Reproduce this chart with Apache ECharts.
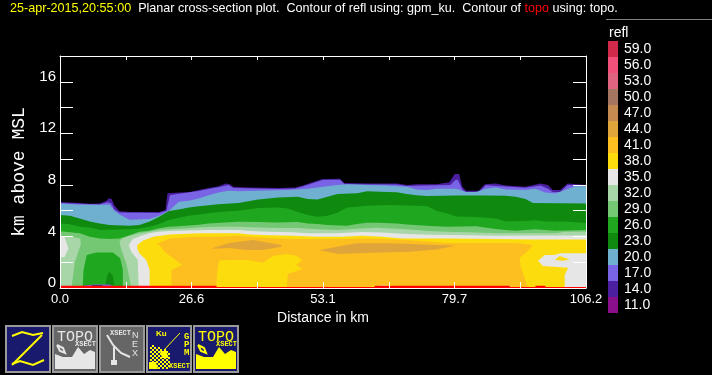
<!DOCTYPE html>
<html>
<head>
<meta charset="utf-8">
<style>
html, body { margin: 0; padding: 0; background: #000; }
#chart { width: 712px; height: 375px; }
</style>
<script src="https://cdn.jsdelivr.net/npm/echarts@6/dist/echarts.min.js"></script>
</head>
<body>
<div id="chart"></div>
<script>
// legend levels, top to bottom
const levels = ['59.0','56.0','53.0','50.0','47.0','44.0','41.0','38.0','35.0','32.0','29.0','26.0','23.0','20.0','17.0','14.0','11.0'];
const levelColors = ['#d0294a','#f0507a','#e0647f','#a47560','#c48a50','#e0a53a','#fdbf1f','#fcdc0d','#e6e6e6','#a9d6a9','#74c874','#1fa81f','#0f8a0f','#6fb0d0','#7a64e6','#4c1ea0','#8a0f8a'];
const xTickLabels = ['0.0','26.6','53.1','79.7','106.2'];
const yTickLabels = ['0','4','8','12','16'];

// contour outlines, [distance km, height km]
const top14 = [[0,0],[0,6.67],[2,6.64],[4,6.6],[6,6.54],[8,6.56],[9.3,6.75],[9.9,6.97],[10.4,6.9],[11,6.4],[12,5.95],[14,5.9],[20,5.9],[21.3,6.05],[21.7,7.35],[24,7.4],[26,7.42],[28,7.6],[30,7.75],[32,7.9],[33.5,8.1],[34.3,8.05],[35,7.85],[38,7.8],[44,7.75],[47.5,7.8],[49,7.95],[51,8.2],[53,8.45],[56.5,8.48],[57.4,8.15],[62,8.1],[68,8.1],[70,8],[72,8.05],[76,8.05],[78.6,8.2],[79.7,8.85],[80.6,8.85],[81.2,7.85],[82,7.55],[84.5,7.55],[85.8,8.05],[88,8.1],[90,7.95],[94,7.85],[97,8.1],[98.5,8],[99.5,7.6],[101,7.6],[102.5,8.1],[106.2,8],[106.2,0]];
const top17 = [[0,0],[0,6.6],[8,6.48],[9.5,6.65],[10.3,6.6],[11,6.1],[12,5.85],[20,5.82],[21.5,6],[22.2,7.2],[24,7.32],[28,7.52],[30,7.68],[32,7.82],[34,8],[35,7.75],[44,7.68],[47.5,7.72],[49,7.88],[51,8.12],[53,8.38],[56.5,8.4],[57.5,8.05],[68,8.03],[70,7.92],[76,7.98],[78.8,8],[79.9,8.4],[80.3,8.4],[81.3,7.6],[82,7.42],[84.5,7.42],[86,7.98],[90,7.87],[94,7.78],[97,7.95],[98.5,7.7],[99.5,7.45],[101,7.45],[102.5,8],[106.2,7.92],[106.2,0]];
const top20 = [[0,0],[0,6.56],[4,6.45],[10,6.45],[11,6],[12,5.7],[14,5.3],[18,5.35],[20,5.6],[22,6],[24,6.7],[26,6.77],[28,6.95],[30,7.2],[32,7.4],[34,7.55],[36,7.5],[40,7.55],[46,7.6],[50,7.7],[52,7.8],[54,7.9],[56,8],[58,8.05],[62,8],[66,7.95],[70,7.85],[72,7.65],[74,7.6],[76,7.7],[80,7.7],[82,7.45],[84,7.45],[86,7.7],[88,7.8],[90,7.65],[94,7.6],[96,7.7],[98,7.4],[100,7.34],[102,7.6],[104,7.9],[106.2,7.9],[106.2,0]];
const top23 = [[0,0],[0,5.66],[2,5.6],[4,5.4],[6,5.15],[8,5],[10,4.88],[14,4.83],[16,4.88],[18,5.14],[20,5.53],[22,5.97],[24,6.1],[26,6.25],[28,6.35],[32,6.5],[36,6.6],[40,6.87],[44,7.03],[48,7.08],[50,6.9],[52,6.87],[54,7.08],[56,7.29],[60,7.35],[62,7.5],[66,7.45],[68,7.42],[70,7.29],[72,7.2],[74,7.13],[80,7.18],[86,7.18],[90,7.15],[92,7.08],[94,6.9],[95.5,6.6],[106.2,6.55],[106.2,0]];
const top26 = [[0,0],[0,5],[2,4.95],[4,4.75],[6,4.7],[8,4.5],[14,4.55],[16,4.62],[18,4.75],[20,4.96],[22,5.27],[24,5.45],[26,5.6],[28,5.7],[30,5.79],[32,5.9],[36,6],[40,6.2],[44,6.25],[46,6.17],[48,5.9],[50,5.66],[52,5.53],[54,5.6],[56,5.84],[58,6.25],[60,6.3],[62,6.38],[66,6.43],[70,6.4],[74,6.36],[76,6],[78,5.8],[80,5.55],[84,5.5],[88,5.4],[90,5.15],[94,5.2],[96,5.25],[98,5.15],[102,5.15],[106.2,5.05],[106.2,0]];
const top29 = [[0,0],[0,4.4],[4,4.25],[6,3.98],[8,3.85],[10,3.8],[12,3.85],[14,4.1],[16,4.37],[18,4.44],[20,4.63],[22,4.75],[24,4.8],[28,4.9],[30,5],[36,5.14],[40,5.12],[44,5.09],[48,5.12],[50,5],[52,4.96],[54,4.88],[58,4.83],[60,4.96],[62,5.06],[64,5.06],[68,5],[70,4.92],[74,4.83],[78,4.75],[84,4.8],[88,4.57],[90,4.5],[92,4.44],[96,4.55],[98,4.5],[100,4.44],[106.2,4.5],[106.2,0]];
const left32 = [[0,0],[0,4.05],[2,4],[4.1,3.85],[4.2,3.4],[3,2],[2.3,0]];
const left35 = [[0,4.05],[0.9,3.98],[1.7,3.07],[0.9,2.38],[0,2.38]];
const main32 = [[14.3,0],[14.3,0.23],[13.4,1.9],[12.4,2.95],[12,3.6],[12.6,3.85],[14,4.03],[16,4.24],[18,4.37],[20,4.5],[22,4.55],[26,4.63],[28,4.7],[32,4.75],[36,4.75],[40,4.7],[44,4.65],[48,4.65],[52,4.55],[56,4.5],[60,4.6],[64,4.68],[68,4.6],[72,4.5],[74,4.42],[78,4.37],[84,4.3],[88,4.24],[100,4.24],[102,4.37],[106.2,4.37],[106.2,0]];
const main35 = [[15.9,0],[15.7,2.17],[14.4,2.8],[13.9,3.33],[14.7,3.8],[16.7,4.1],[18,4.24],[20,4.37],[22,4.42],[26,4.47],[30,4.5],[36,4.5],[38.3,4.42],[42.3,4.37],[47,4.32],[50,4.25],[55.7,4.25],[61,4.35],[65,4.3],[69,4.2],[74.7,4.14],[79,4.11],[88,4.06],[106.2,4.08],[106.2,0]];
const main38 = [[18.1,0],[18.1,1.4],[17.4,2.17],[16,2.69],[15.6,3.07],[15.6,3.33],[16.7,3.67],[18.8,3.98],[22.1,4.16],[28.2,4.24],[36,4.24],[38.3,4.16],[42.3,4.1],[47,4.05],[51.8,3.98],[57,3.98],[61,4.06],[65,3.98],[69,3.85],[79,3.85],[88,3.8],[95,3.77],[106.2,3.77],[106.2,0]];
const main41 = [[22.5,0],[22.5,1.4],[24.7,1.78],[21.1,2.82],[20.1,3.33],[19.4,3.4],[22.1,3.85],[26.8,3.98],[31.5,3.98],[36,4.06],[38.3,3.98],[43.7,3.85],[47.7,3.8],[57,3.8],[61,3.85],[65,3.8],[70,3.72],[74.7,3.59],[78,3.5],[92,3.5],[95.5,3.33],[94.2,2.8],[92.8,2.34],[93,1.65],[94.5,0]];
const lens44a = [[30.9,3.1],[34.2,3.5],[39,3.72],[44.7,3.33],[44.7,3.2],[41,2.95],[37.6,2.95],[34.2,3.1],[30.9,3.05]];
const lens44b = [[52.6,2.95],[55.1,3.15],[59.8,3.47],[66.6,3.47],[74.7,3.36],[79.4,3.3],[79.8,3.27],[76,2.98],[70.6,2.82],[63,2.74],[56.3,2.63],[52.6,2.9]];
const patch38 = [[31.5,0],[31.8,1.5],[32.2,2.15],[34.2,2.17],[38,2.17],[41,1.96],[43,2.48],[45.7,2.63],[47.7,2.5],[48.9,2.17],[47.7,1.78],[48.9,1.47],[46,1.09],[45.8,0]];
const floor38a = [[23.5,0],[24,0.2],[26,0.2],[26.5,0]];
const floor38b = [[62.5,0],[63,0.2],[67,0.25],[68,0]];
const floor35b = [[64,0],[64.5,0.2],[66,0.2],[67,0]];
const right35 = [[101.9,0],[101.9,1],[102.6,1.58],[97.5,1.7],[96.5,2.12],[97.9,2.56],[99.9,2.56],[101,2.7],[106.2,2.7],[106.2,0]];
const right38 = [[99.9,2.17],[100.9,2.48],[102.9,2.22],[101.6,2.12]];
const dome26 = [[4.6,0],[4.6,0.23],[4.75,1.4],[5.4,2.56],[7.3,2.76],[10.7,2.76],[12.15,2.3],[12.7,1.4],[12.7,0]];
const dome23 = [[9.2,0.23],[9.5,0.88],[9.9,1.27],[10.6,1],[11,0.23]];
const floor17 = [[4,0],[5,0.2],[7,0.27],[10,0.27],[11.5,0]];
const floorGap = [[6,0],[6.5,0.2],[8.5,0.2],[9,0]];
const topo = [[0,0],[0,0.17],[31.6,0.17],[31.6,0.08],[63.5,0.08],[63.5,0.17],[90.8,0.17],[90.8,0.08],[96,0.08],[96,0.17],[98,0.17],[98,0.08],[106.2,0.08],[106.2,0]];

const c = {};
levels.forEach((l, i) => { c[parseInt(l)] = levelColors[i]; });

// painted in this order, later ones on top
const layers = [
    [top14, c[14]], [top17, c[17]], [top20, c[20]], [top23, c[23]], [top26, c[26]], [top29, c[29]],
    [left32, c[32]], [left35, c[35]], [main32, c[32]], [main35, c[35]], [main38, c[38]], [main41, c[41]],
    [lens44a, c[44]], [lens44b, c[44]], [patch38, c[38]], [floor38a, c[38]], [floor38b, c[38]], [floor35b, c[35]],
    [right35, c[35]], [right38, c[38]],
    [dome26, c[26]], [dome23, c[23]], [floor17, c[17]], [floorGap, '#000'], [topo, '#ff0000']
];

const NAVY = '#19196e', GRAY = '#666666', YEL = '#ffff00', WHT = '#e6e6e6';

function iconBox(x, fill) {
    return { type: 'rect', shape: { x: x + 1, y: 326, width: 44, height: 46 }, style: { fill: fill, stroke: '#999', lineWidth: 2 } };
}
function label(x, y, text, color, font) {
    return { type: 'text', x: x, y: y, style: { text: text, fill: color, font: font, textVerticalAlign: 'middle' } };
}
function poly(points, fill) {
    return { type: 'polygon', shape: { points: points }, style: { fill: fill } };
}
function wire(points, color, w) {
    return { type: 'polyline', shape: { points: points }, style: { stroke: color, lineWidth: w || 1, fill: null } };
}
// TOPO button, x is the left edge of the button
function topoIcon(x, fill, color) {
    return [
        iconBox(x, fill),
        label(x + 5, 337, 'TOPO', color, '15px "Liberation Mono"'),
        label(x + 23, 344, 'XSECT', color, 'bold 7px "Liberation Mono"'),
        poly([[x+3,354],[x+11,357],[x+20,357],[x+26,347],[x+32,354],[x+38,350],[x+43,352],[x+43,369],[x+3,369]], color),
        wire([[x+5,345],[x+8,351],[x+13,353],[x+11,348],[x+5,345]], color, 2)
    ];
}
// dithered ground in the GPM button
function dither() {
    const out = [];
    for (let y = 343; y < 368; y += 2) {
        for (let x = 150; x < 170; x += 2) {
            const edge = y < 350 ? 150 + (y - 343) * 2.5 : 169;
            if (x < edge && (x + y) % 4 === 1) {
                out.push({ type: 'rect', shape: { x: x, y: y, width: 2, height: 2 }, style: { fill: YEL } });
            }
        }
    }
    return out;
}

const graphics = [].concat(
    [label(609, 33, 'refl', '#fff', '14px "Liberation Sans"'),
     { type: 'line', shape: { x1: 606, y1: 19.5, x2: 712, y2: 19.5 }, style: { stroke: '#808080', lineWidth: 1 } }],
    [iconBox(5, NAVY),
     wire([[12,336],[22,332],[33,335],[43,333]], YEL, 2),
     wire([[42,335],[12,365]], YEL, 2),
     wire([[12,364],[20,361],[33,365],[44,360]], YEL, 2)],
    topoIcon(52, GRAY, WHT),
    [iconBox(99, GRAY),
     label(110, 333, 'XSECT', WHT, 'bold 7px "Liberation Mono"'),
     label(132, 336, 'N', WHT, '9px "Liberation Sans"'),
     label(132, 345, 'E', WHT, '9px "Liberation Sans"'),
     label(132, 354, 'X', WHT, '9px "Liberation Sans"'),
     wire([[107,335],[113,345],[121,353],[130,357]], WHT, 2),
     wire([[114,347],[114,360]], WHT, 2),
     poly([[111,360],[117,360],[117,365],[111,365]], WHT)],
    [iconBox(146, NAVY)],
    dither(),
    [label(156, 334, 'Ku', YEL, 'bold 8px "Liberation Sans"'),
     label(184, 337, 'G', YEL, 'bold 9px "Liberation Mono"'),
     label(184, 345, 'P', YEL, 'bold 9px "Liberation Mono"'),
     label(184, 353, 'M', YEL, 'bold 9px "Liberation Mono"'),
     label(169, 366, 'XSECT', YEL, 'bold 7px "Liberation Mono"'),
     poly([[149,362],[156,362],[158,369],[149,369]], YEL),
     poly([[160,351],[166,351],[169,358],[162,358]], YEL),
     wire([[164,350],[180,333]], YEL, 1)],
    topoIcon(193, NAVY, YEL)
);

const chart = echarts.init(document.getElementById('chart'));
chart.setOption({
    backgroundColor: '#000',
    animation: false,
    title: {
        left: 10, top: 2, padding: 0,
        text: '{y|25-apr-2015,20:55:00}  Planar cross-section plot.  Contour of refl using: gpm_ku.  Contour of {r|topo} using: topo.',
        textStyle: {
            color: '#fff', fontSize: 12.6, fontWeight: 'normal', fontFamily: 'Liberation Sans',
            rich: { y: { color: '#ffff00', fontSize: 12.6 }, r: { color: '#ff0000', fontSize: 12.6 } }
        }
    },
    grid: { left: 60, right: 126, top: 56, bottom: 87, outerBoundsMode: 'none' },
    xAxis: [
        {
            type: 'value', min: 0, max: 106.2, interval: 13.275, z: 10,
            name: 'Distance in km', nameLocation: 'middle', nameGap: 21,
            nameTextStyle: { color: '#fff', fontSize: 14, fontFamily: 'Liberation Sans' },
            splitLine: { show: false },
            axisLine: { onZero: false, lineStyle: { color: '#fff', width: 1 } },
            axisTick: { inside: true, length: 6, lineStyle: { color: '#fff' } },
            axisLabel: {
                color: '#fff', fontSize: 13, fontFamily: 'Liberation Sans', margin: 5, showMaxLabel: true,
                formatter: (v) => {
                    const i = Math.round(v / 13.275);
                    return i % 2 === 0 ? xTickLabels[i / 2] : '';
                }
            }
        },
        {
            type: 'value', position: 'top', min: 0, max: 106.2, interval: 13.275, z: 10,
            splitLine: { show: false }, axisLabel: { show: false },
            axisLine: { onZero: false, lineStyle: { color: '#fff', width: 1 } },
            axisTick: { inside: true, length: 4, lineStyle: { color: '#fff' } }
        }
    ],
    yAxis: [
        {
            type: 'value', min: 0, max: 18, interval: 2, z: 10,
            name: 'km above MSL', nameLocation: 'middle', nameGap: 31, nameRotate: 90,
            nameTextStyle: { color: '#fff', fontSize: 18, fontFamily: 'Liberation Mono' },
            splitLine: { show: false },
            axisLine: { onZero: false, lineStyle: { color: '#fff', width: 1 } },
            axisTick: { inside: true, length: 13, lineStyle: { color: '#fff' } },
            axisLabel: {
                color: '#fff', fontSize: 15, fontFamily: 'Liberation Sans', margin: 4, verticalAlign: 'bottom', lineHeight: 10,
                showMaxLabel: false,
                formatter: (v) => (v % 4 === 0 && yTickLabels[v / 4]) || ''
            }
        },
        {
            type: 'value', position: 'right', min: 0, max: 18, interval: 2, z: 10,
            splitLine: { show: false }, axisLabel: { show: false },
            axisLine: { onZero: false, lineStyle: { color: '#fff', width: 1 } },
            axisTick: { inside: true, length: 13, lineStyle: { color: '#fff' } }
        }
    ],
    visualMap: {
        type: 'piecewise', seriesIndex: [], selectedMode: false, hoverLink: false,
        left: 608, top: 41, orient: 'vertical', align: 'left', itemWidth: 10, itemHeight: 16, itemGap: 0, itemSymbol: 'rect', padding: 0,
        textGap: 6,
        textStyle: { color: '#fff', fontSize: 14, fontFamily: 'Liberation Sans' },
        pieces: levels.map((l, i) => ({ value: parseFloat(l), label: l, color: levelColors[i] }))
    },
    graphic: graphics,
    series: [{
        type: 'custom',
        coordinateSystem: 'cartesian2d',
        clip: true,
        silent: true,
        data: layers.map((l, i) => [i]),
        renderItem: (params, api) => {
            const layer = layers[params.dataIndex];
            return {
                type: 'polygon',
                shape: { points: layer[0].map((p) => api.coord(p)) },
                style: { fill: layer[1] }
            };
        }
    }]
});
</script>
</body>
</html>
